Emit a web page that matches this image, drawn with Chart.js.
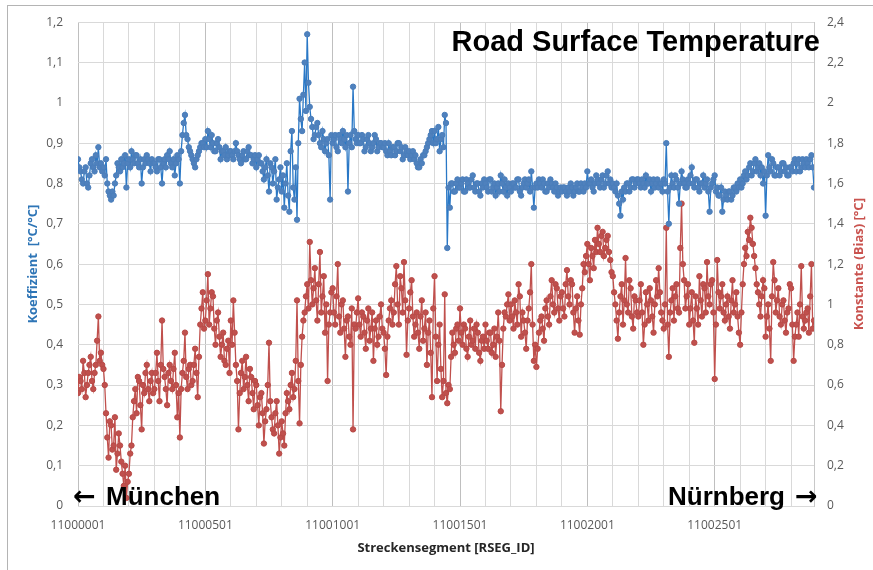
<!DOCTYPE html>
<html>
<head>
<meta charset="utf-8">
<script src="https://cdn.jsdelivr.net/npm/chart.js@4.4.0/dist/chart.umd.min.js"></script>
<style>
  html, body { margin: 0; padding: 0; background: #fff; }
  canvas { display: block; }
</style>
</head>
<body>
<canvas id="road-chart" width="873" height="570"></canvas>
<script>
// segment ids: 11000001 ... 11002891, one reading every 5 segments
const segmentStart = 11000001;
const segmentStep = 5;
const labelEvery = 500;
const gridEvery = 100;

// Koeffizient [°C/°C] (left axis), 20 values per 100 segments
const koeffizient = [
  0.86,0.84,0.83,0.81,0.80,0.83,0.84,0.80,0.79,0.82,0.85,0.86,0.84,0.83,0.87,0.85,0.89,0.84,0.85,0.83,
  0.84,0.82,0.86,0.80,0.78,0.77,0.76,0.78,0.77,0.80,0.82,0.85,0.84,0.83,0.86,0.84,0.85,0.87,0.79,0.85,
  0.86,0.84,0.88,0.86,0.85,0.87,0.87,0.85,0.84,0.86,0.80,0.84,0.86,0.85,0.87,0.86,0.85,0.83,0.86,0.85,
  0.85,0.84,0.83,0.86,0.86,0.84,0.80,0.85,0.86,0.84,0.87,0.86,0.88,0.85,0.84,0.86,0.82,0.85,0.87,0.86,
  0.80,0.88,0.92,0.95,0.97,0.92,0.91,0.89,0.88,0.87,0.86,0.85,0.84,0.86,0.87,0.88,0.89,0.90,0.90,0.89,
  0.91,0.89,0.93,0.91,0.89,0.92,0.90,0.88,0.88,0.90,0.91,0.89,0.86,0.88,0.88,0.87,0.89,0.86,0.87,0.88,
  0.88,0.87,0.86,0.88,0.90,0.88,0.87,0.86,0.85,0.87,0.88,0.86,0.86,0.88,0.89,0.87,0.87,0.85,0.86,0.87,
  0.84,0.86,0.87,0.85,0.85,0.83,0.81,0.84,0.86,0.82,0.78,0.85,0.84,0.80,0.83,0.86,0.76,0.79,0.81,0.84,
  0.78,0.82,0.74,0.80,0.85,0.77,0.73,0.88,0.93,0.79,0.76,0.84,0.71,0.90,1.01,0.96,0.93,1.02,1.10,0.98,
  1.17,1.05,0.99,0.96,0.94,0.91,0.92,0.94,0.95,0.92,0.90,0.89,0.93,0.91,0.88,0.90,0.91,0.87,0.76,0.92,
  0.90,0.91,0.92,0.89,0.88,0.92,0.91,0.90,0.93,0.91,0.89,0.92,0.78,0.90,0.92,0.89,1.04,0.93,0.91,0.90,
  0.92,0.90,0.90,0.92,0.91,0.88,0.89,0.91,0.92,0.90,0.88,0.89,0.90,0.92,0.91,0.88,0.89,0.90,0.90,0.89,
  0.89,0.90,0.88,0.87,0.90,0.88,0.87,0.89,0.89,0.87,0.88,0.90,0.90,0.88,0.89,0.86,0.87,0.89,0.88,0.87,
  0.88,0.86,0.87,0.88,0.86,0.87,0.85,0.84,0.84,0.86,0.85,0.87,0.87,0.88,0.89,0.90,0.91,0.92,0.93,0.90,
  0.93,0.90,0.91,0.94,0.88,0.91,0.92,0.89,0.97,0.95,0.64,0.79,0.74,0.80,0.80,0.78,0.78,0.80,0.81,0.79,
  0.79,0.80,0.81,0.78,0.78,0.81,0.80,0.79,0.79,0.81,0.82,0.79,0.78,0.80,0.80,0.78,0.77,0.80,0.79,0.81,
  0.80,0.79,0.78,0.81,0.81,0.78,0.79,0.80,0.77,0.79,0.80,0.78,0.82,0.80,0.78,0.81,0.79,0.77,0.80,0.79,
  0.78,0.80,0.80,0.79,0.79,0.81,0.81,0.78,0.77,0.79,0.80,0.81,0.79,0.80,0.81,0.78,0.83,0.79,0.74,0.79,
  0.80,0.79,0.81,0.80,0.79,0.81,0.80,0.78,0.78,0.80,0.79,0.81,0.80,0.79,0.78,0.80,0.79,0.77,0.78,0.79,
  0.78,0.79,0.79,0.78,0.77,0.79,0.78,0.80,0.79,0.77,0.78,0.79,0.80,0.78,0.78,0.80,0.79,0.78,0.80,0.79,
  0.83,0.80,0.80,0.81,0.79,0.78,0.80,0.82,0.81,0.80,0.79,0.81,0.82,0.79,0.80,0.82,0.83,0.80,0.81,0.79,
  0.80,0.79,0.78,0.80,0.77,0.75,0.72,0.78,0.76,0.79,0.78,0.80,0.80,0.78,0.79,0.81,0.81,0.79,0.80,0.81,
  0.81,0.80,0.79,0.81,0.80,0.79,0.82,0.80,0.80,0.81,0.78,0.80,0.81,0.79,0.80,0.81,0.79,0.80,0.80,0.78,
  0.81,0.80,0.90,0.78,0.70,0.79,0.82,0.80,0.79,0.82,0.81,0.79,0.75,0.80,0.83,0.81,0.80,0.79,0.79,0.81,
  0.80,0.82,0.84,0.80,0.79,0.81,0.81,0.79,0.78,0.80,0.80,0.82,0.79,0.80,0.81,0.78,0.73,0.79,0.80,0.81,
  0.82,0.78,0.79,0.77,0.77,0.79,0.73,0.76,0.78,0.77,0.76,0.78,0.78,0.76,0.77,0.79,0.79,0.78,0.80,0.79,
  0.81,0.79,0.80,0.82,0.83,0.81,0.82,0.84,0.85,0.82,0.83,0.85,0.86,0.83,0.84,0.85,0.82,0.84,0.80,0.83,
  0.72,0.82,0.87,0.84,0.83,0.86,0.85,0.82,0.82,0.84,0.84,0.82,0.83,0.85,0.85,0.83,0.84,0.82,0.82,0.84,
  0.84,0.83,0.85,0.86,0.83,0.85,0.86,0.83,0.84,0.86,0.85,0.84,0.86,0.85,0.84,0.86,0.87,0.84,0.79
];

// Konstante (Bias) [°C] (right axis)
const konstante = [
  0.56,0.64,0.62,0.58,0.72,0.66,0.54,0.60,0.66,0.70,0.74,0.62,0.58,0.66,0.70,0.82,0.94,0.72,0.76,0.70,
  0.68,0.60,0.46,0.34,0.24,0.42,0.40,0.28,0.30,0.44,0.18,0.26,0.36,0.30,0.22,0.16,0.10,0.20,0.04,0.12,
  0.16,0.26,0.30,0.44,0.52,0.58,0.46,0.64,0.62,0.50,0.38,0.60,0.56,0.66,0.70,0.58,0.52,0.62,0.66,0.56,
  0.58,0.66,0.76,0.62,0.52,0.70,0.92,0.68,0.64,0.58,0.50,0.66,0.70,0.62,0.58,0.68,0.76,0.60,0.44,0.56,
  0.34,0.58,0.66,0.72,0.86,0.64,0.58,0.68,0.70,0.60,0.62,0.70,0.78,0.66,0.54,0.74,0.90,0.98,1.06,0.88,
  0.92,1.02,1.15,0.90,0.98,1.06,1.04,0.88,0.80,0.92,0.96,0.84,0.74,0.80,0.86,0.72,0.70,0.78,0.82,0.66,
  0.92,0.80,1.02,0.86,0.70,0.62,0.38,0.56,0.66,0.72,0.58,0.64,0.74,0.60,0.52,0.68,0.64,0.56,0.48,0.62,
  0.60,0.50,0.40,0.54,0.56,0.46,0.31,0.42,0.48,0.60,0.81,0.52,0.44,0.38,0.36,0.46,0.52,0.40,0.26,0.34,
  0.42,0.36,0.30,0.46,0.56,0.52,0.48,0.60,0.66,0.54,0.58,0.72,1.02,0.62,0.41,0.70,0.84,0.92,0.96,1.04,
  1.10,0.98,1.31,1.12,1.00,1.08,1.18,1.02,0.92,1.10,1.26,0.96,1.04,1.14,0.86,1.00,0.62,0.90,0.96,1.06,
  1.08,0.96,0.90,1.04,1.20,0.94,0.86,1.00,1.02,0.88,0.74,0.92,0.94,0.84,0.80,0.98,0.38,0.90,0.88,0.96,
  1.03,0.90,0.84,0.96,0.94,0.86,0.78,0.92,0.98,0.82,0.88,0.96,0.72,0.88,0.92,0.80,0.84,0.94,1.00,0.88,
  0.86,0.78,0.65,0.84,0.92,0.98,1.02,0.90,0.96,1.10,1.19,1.00,0.90,1.14,1.08,0.96,1.21,1.02,0.75,0.92,
  0.98,1.06,1.12,0.94,0.84,0.90,0.96,0.86,0.78,0.94,1.02,0.82,0.88,0.96,0.70,0.86,0.92,0.76,0.54,0.98,
  1.14,0.84,0.62,0.80,0.90,0.68,0.54,0.62,1.05,0.56,0.51,0.60,0.58,0.74,0.86,0.80,0.76,0.88,0.90,0.82,
  0.98,0.86,0.80,0.90,0.88,0.78,0.74,0.84,0.92,0.80,0.82,0.88,0.78,0.90,0.86,0.76,0.72,0.82,0.84,0.78,
  0.90,0.82,0.78,0.86,0.86,0.76,0.80,0.88,0.74,0.84,0.96,0.82,0.47,0.70,0.88,0.96,0.94,1.00,1.05,0.92,
  1.00,0.94,0.88,1.02,0.96,0.90,1.10,1.04,0.84,0.96,0.92,0.86,0.78,0.92,0.98,1.06,1.20,0.90,0.72,0.80,
  0.69,0.78,0.86,0.92,0.94,0.88,0.82,0.98,1.02,0.94,0.90,1.04,1.12,1.00,0.96,1.10,1.08,0.98,0.92,1.04,
  1.06,0.98,0.94,1.10,1.17,1.04,1.00,1.12,1.10,0.96,0.86,0.98,1.04,0.92,0.85,1.00,1.08,1.20,1.16,1.24,
  1.30,1.20,1.12,1.28,1.24,1.18,1.32,1.26,1.38,1.30,1.26,1.34,1.36,1.24,1.28,1.32,1.34,1.26,1.22,1.16,
  1.14,1.06,1.00,0.92,0.83,0.96,1.04,1.10,0.90,1.02,1.23,1.00,0.96,1.12,1.08,0.94,0.88,1.04,1.02,0.96,
  0.94,1.02,1.10,0.96,0.80,0.90,1.06,1.00,0.92,1.08,1.02,0.94,0.86,1.00,1.12,1.04,1.18,1.06,0.96,0.92,
  0.88,1.00,1.38,0.90,0.74,0.96,1.02,1.08,0.92,1.04,1.10,0.98,0.96,1.28,1.50,1.20,1.12,0.98,1.04,1.10,
  0.90,0.98,1.06,0.92,0.81,1.04,0.98,0.90,1.14,1.02,0.94,1.10,1.08,0.96,1.21,1.04,1.00,1.10,1.12,0.96,
  0.63,0.90,1.22,1.06,0.98,1.04,1.10,0.96,0.92,1.00,1.04,0.94,0.88,1.02,1.12,0.96,1.00,1.06,0.94,0.86,
  0.80,0.96,1.10,1.20,1.28,1.24,1.36,1.32,1.43,1.38,1.30,1.24,1.18,1.10,1.06,1.00,0.94,1.04,1.12,1.08,
  0.84,0.94,1.00,0.88,0.72,1.04,1.21,1.12,0.96,1.02,1.08,0.94,0.90,1.00,1.02,0.92,0.86,0.96,0.98,1.10,
  1.08,0.90,0.72,0.84,0.90,0.96,0.84,1.00,1.19,0.94,0.88,0.92,0.96,0.98,0.86,1.04,1.20,0.88,0.92
];

// axis ranges [min, max, step]
const leftAxis = [0, 1.2, 0.1];
const rightAxis = [0, 2.4, 0.2];
const xAxis = [0, (koeffizient.length - 1) * segmentStep];

const commaNum = v => String(parseFloat(v.toFixed(1))).replace('.', ',');
const toPoints = arr => arr.map((v, i) => ({x: i * segmentStep, y: v}));

const tickFont = {family: '"Open Sans", sans-serif', size: 12};
const gridColor = '#d9d9d9';

const overlay = {
  id: 'overlay',
  beforeDraw(chart) {
    const ctx = chart.ctx;
    ctx.save();
    ctx.fillStyle = '#fff';
    ctx.fillRect(0, 0, chart.width, chart.height);
    ctx.strokeStyle = '#b4b4b4';
    ctx.lineWidth = 1;
    ctx.strokeRect(7.5, 5.5, chart.width + 10, chart.height + 10);
    ctx.restore();
  },
  afterDraw(chart) {
    const {ctx, chartArea: a} = chart;
    ctx.save();
    ctx.fillStyle = '#000';
    ctx.textBaseline = 'alphabetic';

    ctx.font = 'bold 29px "Liberation Sans", Arial, sans-serif';
    ctx.textAlign = 'right';
    ctx.fillText('Road Surface Temperature', a.right + 6, a.top + 29);

    ctx.font = 'bold 26px "Liberation Sans", Arial, sans-serif';
    ctx.textAlign = 'left';
    ctx.fillText('München', a.left + 28, a.bottom - 1);
    ctx.textAlign = 'right';
    ctx.fillText('Nürnberg', a.right - 29, a.bottom - 1);

    ctx.font = 'bold 27px "DejaVu Sans", sans-serif';
    ctx.textAlign = 'left';
    ctx.fillText('\u2190', a.left - 5, a.bottom - 1);
    ctx.fillText('\u2192', a.right - 19, a.bottom - 1);

    // right axis title, reading bottom to top like the left one
    ctx.translate(859, (a.top + a.bottom) / 2);
    ctx.rotate(-Math.PI / 2);
    ctx.font = 'bold 13px "Open Sans", sans-serif';
    ctx.fillStyle = '#c9534f';
    ctx.textAlign = 'center';
    ctx.textBaseline = 'middle';
    ctx.fillText('Konstante (Bias) [°C]', 0, 0);
    ctx.restore();
  }
};

new Chart(document.getElementById('road-chart'), {
  type: 'line',
  data: {
    datasets: [
      {
        label: 'Koeffizient',
        data: toPoints(koeffizient),
        yAxisID: 'y',
        borderColor: '#2a78c6',
        borderWidth: 1.3,
        pointRadius: 2.7,
        pointBackgroundColor: '#4f81bd',
        pointBorderColor: '#4a7ebb',
        pointBorderWidth: 1,
        tension: 0
      },
      {
        label: 'Konstante',
        data: toPoints(konstante),
        yAxisID: 'y1',
        borderColor: '#c0504d',
        borderWidth: 1.3,
        pointRadius: 2.7,
        pointBackgroundColor: '#c0504d',
        pointBorderColor: '#b84a47',
        pointBorderWidth: 1,
        tension: 0
      }
    ]
  },
  options: {
    responsive: false,
    animation: false,
    devicePixelRatio: 1,
    layout: {padding: {top: 20, left: 0, right: 0, bottom: 0}},
    plugins: {legend: {display: false}, tooltip: {enabled: false}},
    scales: {
      x: {
        type: 'linear',
        min: xAxis[0],
        max: xAxis[1],
        afterFit: s => { s.height = 64; },
        afterBuildTicks: s => {
          const t = [];
          for (let v = xAxis[0]; v < xAxis[1]; v += gridEvery) t.push({value: v});
          s.ticks = t;
        },
        grid: {
          drawTicks: false,
          color: c => (c.tick && c.tick.value % labelEvery === 0) ? '#bfbfbf' : gridColor
        },
        border: {display: false},
        ticks: {
          autoSkip: false,
          maxRotation: 0,
          padding: 12,
          font: tickFont,
          color: '#595959',
          callback: v => v % labelEvery === 0 ? String(segmentStart + v) : ''
        },
        title: {
          display: true,
          text: 'Streckensegment [RSEG_ID]',
          color: '#262626',
          font: {family: '"Open Sans", sans-serif', size: 13, weight: 'bold'},
          padding: {top: 0, bottom: 14}
        }
      },
      y: {
        position: 'left',
        min: leftAxis[0],
        max: leftAxis[1],
        afterFit: s => { s.width = 78; },
        grid: {drawTicks: false, color: gridColor},
        border: {display: false},
        ticks: {
          stepSize: leftAxis[2],
          padding: 15,
          font: tickFont,
          color: '#595959',
          callback: v => commaNum(v)
        },
        title: {
          display: true,
          text: 'Koeffizient  [°C/°C]',
          color: '#2e75b6',
          font: {family: '"Open Sans", sans-serif', size: 13, weight: 'bold'},
          padding: {top: 25, bottom: 0}
        }
      },
      y1: {
        position: 'right',
        min: rightAxis[0],
        max: rightAxis[1],
        afterFit: s => { s.width = 59; },
        grid: {drawOnChartArea: false, drawTicks: false},
        border: {display: true, color: '#c8c8c8'},
        ticks: {
          stepSize: rightAxis[2],
          padding: 13,
          font: tickFont,
          color: '#595959',
          callback: v => commaNum(v)
        }
      }
    }
  },
  plugins: [overlay]
});
</script>
</body>
</html>
